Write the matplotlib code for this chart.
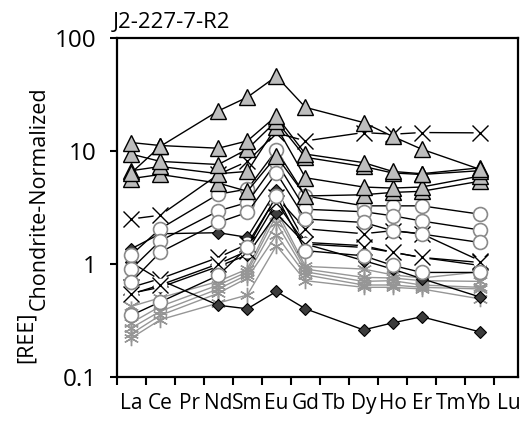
import matplotlib
matplotlib.use("Agg")
import matplotlib.pyplot as plt
import numpy as np
from matplotlib.ticker import FixedLocator, NullLocator, FixedFormatter

plt.rcParams['font.family'] = ['Open Sans', 'DejaVu Sans']

elements = ['La', 'Ce', 'Pr', 'Nd', 'Sm', 'Eu', 'Gd', 'Tb', 'Dy', 'Ho', 'Er', 'Tm', 'Yb', 'Lu']
measured = ['La', 'Ce', 'Nd', 'Sm', 'Eu', 'Gd', 'Dy', 'Ho', 'Er', 'Yb']

# triangles
tri_a = [6.4, 11.0, 22.7, 30, 46, 24.4, 17.9, 13.5, 10.4, 6.9]
tri_b = [11.9, 11.2, 10.6, 12.3, 20.5, 9.4, 7.9, 6.6, 6.3, 7.1]
tri_c = [9.4, 8.1, 7.6, 10.4, 18.5, 8.8, 7.3, 6.4, 6.2, 6.7]
tri_d = [6.7, 7.3, 6.3, 6.6, 16.5, 5.8, 4.8, 4.7, 4.8, 6.0]
tri_e = [5.7, 6.2, 5.2, 4.4, 9.0, 4.0, 4.1, 4.3, 4.4, 5.4]
# crosses
x_a = [2.5, 2.7, 6.2, 8.1, 14.5, 12.3, 14.6, 14.1, 14.6, 14.5]
x_b = [0.62, 0.74, 1.14, 1.5, 3.9, 2.05, 1.85, 1.97, 1.85, 1.07]
x_c = [0.54, 0.65, 1.0, 1.3, 3.5, 1.5, 1.4, 1.27, 1.14, 1.03]
# open circles
c_a = [1.2, 2.05, 4.15, 4.6, 10.2, 4.0, 3.27, 3.27, 3.27, 2.76]
c_b = [0.9, 1.6, 2.95, 3.5, 8.0, 3.05, 2.9, 2.67, 2.4, 2.0]
c_c = [0.69, 1.27, 2.33, 2.86, 6.4, 2.5, 2.33, 1.97, 1.84, 1.55]
c_d = [0.35, 0.46, 0.79, 1.4, 4.0, 1.31, 1.18, 0.97, 0.84, 0.84]
# diamonds
d_a = [1.03, 0.72, 0.43, 0.40, 0.57, 0.40, 0.26, 0.30, 0.34, 0.25]
d_b = [1.36, 1.85, 1.89, 1.72, 4.5, 1.55, 1.45, 1.27, 1.14, 0.97]
d_c = [0.55, 0.62, 0.95, 1.2, 2.8, 1.5, 1.07, 0.9, 0.74, 0.51]
# asterisks
s_a = [0.42, 0.50, 0.70, 0.90, 3.0, 0.95, 0.90, 0.80, 0.75, 0.85]
s_b = [0.30, 0.42, 0.65, 0.85, 2.7, 0.90, 0.76, 0.75, 0.71, 0.70]
s_c = [0.27, 0.38, 0.60, 0.80, 2.3, 0.85, 0.70, 0.71, 0.65, 0.62]
s_d = [0.24, 0.35, 0.55, 0.75, 1.8, 0.80, 0.65, 0.65, 0.62, 0.60]
s_e = [0.22, 0.32, 0.45, 0.53, 1.45, 0.71, 0.62, 0.62, 0.60, 0.49]

xpos = np.array([elements.index(e) + 0.5 for e in measured])

fig = plt.figure(figsize=(5.27, 4.25), dpi=100)
ax = fig.add_axes([0.2214, 0.1136, 0.7621, 0.7964])

grey = '#969696'
for s in [s_a, s_b, s_c, s_d, s_e]:
    ax.plot(xpos, s, '-', color=grey, lw=1, marker=(6, 2, 0), ms=11, mew=1, mec=grey)

for d in [d_a, d_b, d_c]:
    ax.plot(xpos, d, '-', color='black', lw=1, marker='D', ms=6, mfc='#3c3c3c', mec='black', mew=0.8)

for c in [x_a, x_b, x_c]:
    ax.plot(xpos, c, '-', color='black', lw=1)
    ax.plot(xpos, c, 'o', color='white', ms=10, mec='none')
    ax.plot(xpos, c, 'x', color='black', ms=11, mew=1)

for c in [c_a, c_b, c_c, c_d]:
    ax.plot(xpos, c, '-', color='black', lw=1, marker='o', ms=10, mfc='white', mec='#8a8a8a', mew=1.2)

for t in [tri_e, tri_d, tri_c, tri_b, tri_a]:
    ax.plot(xpos, t, '-', color='black', lw=1, marker='^', ms=11, mfc='#bdbdbd', mec='black', mew=1)

ax.set_yscale('log')
ax.set_ylim(0.1, 100)
ax.set_xlim(0, 13.83)
ax.yaxis.set_major_locator(FixedLocator([0.1, 1, 10, 100]))
ax.yaxis.set_major_formatter(FixedFormatter(['0.1', '1', '10', '100']))
ax.yaxis.set_minor_locator(NullLocator())
ax.xaxis.set_major_locator(FixedLocator(np.arange(0, 14)))
ax.xaxis.set_major_formatter(FixedFormatter([''] * 14))
ax.xaxis.set_minor_locator(FixedLocator(np.arange(14) + 0.5))
ax.xaxis.set_minor_formatter(FixedFormatter(elements))
ax.tick_params(axis='x', which='major', direction='out', length=6, width=1.5)
ax.tick_params(axis='x', which='minor', length=0, pad=11.5, labelsize=15)
ax.tick_params(axis='y', which='major', direction='out', length=5, width=1.5, pad=9.5, labelsize=17.5)
for sp in ax.spines.values():
    sp.set_linewidth(1.6)

fig.text(113 / 527, 1 - 28 / 425, 'J2-227-7-R2', ha='left', va='baseline', fontsize=16)
fig.text(32 / 527, 1 - 363 / 425, '[REE]', rotation=90, rotation_mode='anchor',
         ha='left', va='baseline', fontsize=15.5)
fig.text(45 / 527, 1 - 310 / 425, 'Chondrite-Normalized', rotation=90, rotation_mode='anchor',
         ha='left', va='baseline', fontsize=15.5)

fig.savefig('out.png', dpi=100)
